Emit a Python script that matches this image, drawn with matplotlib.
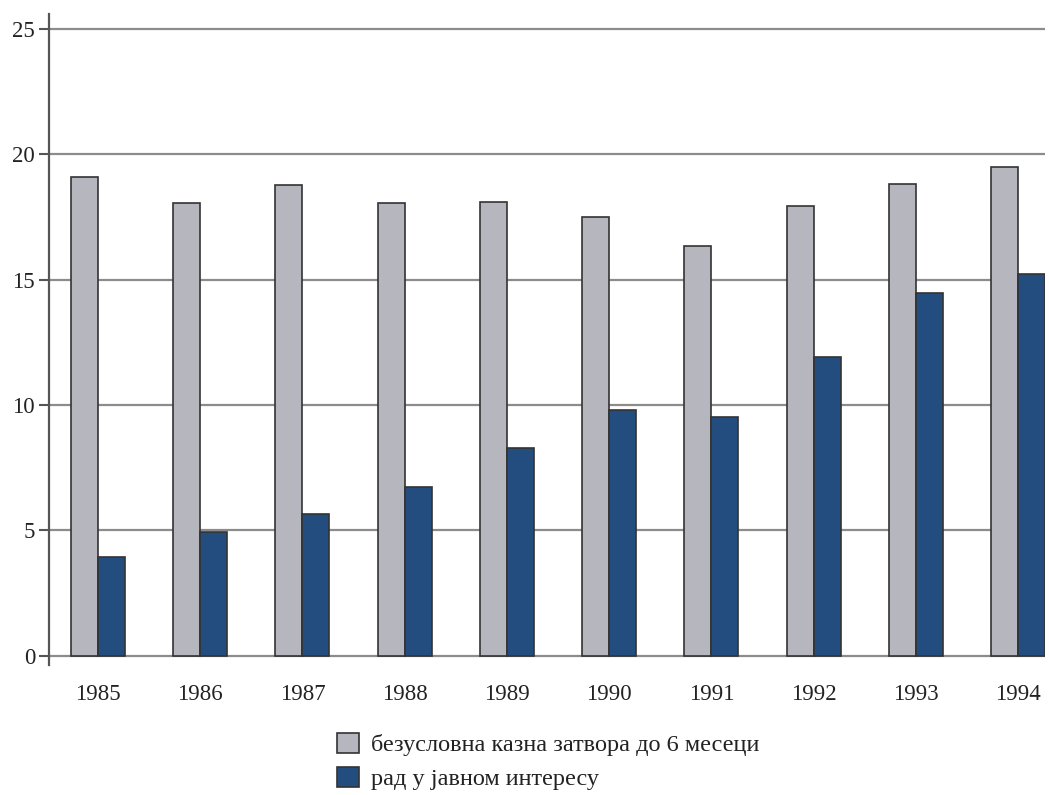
import numpy as np
import matplotlib
matplotlib.use("Agg")
import matplotlib.pyplot as plt
from matplotlib.patches import Patch

plt.rcParams['font.family'] = ['Liberation Serif', 'DejaVu Serif']

years = ['1985', '1986', '1987', '1988', '1989', '1990', '1991', '1992', '1993', '1994']
prison = [19.1, 18.06, 18.76, 18.06, 18.09, 17.5, 16.32, 17.92, 18.82, 19.49]
community = [3.93, 4.93, 5.65, 6.72, 8.27, 9.8, 9.53, 11.9, 14.47, 15.23]
labels = ['безусловна казна затвора до 6 месеци', 'рад у јавном интересу']

grey = '#b5b6be'
blue = '#234d7e'
edge = '#333333'

fig = plt.figure(figsize=(10.49, 7.95), dpi=100)
ax = fig.add_axes([49/1049, 130/795, (1045-49)/1049, (665-14)/795])

x = np.arange(len(years))
w = 0.263
ax.bar(x - w/2, prison, w, color=grey, edgecolor=edge, linewidth=1.2, zorder=3)
ax.bar(x + w/2, community, w, color=blue, edgecolor=edge, linewidth=1.2, zorder=3)

for v in range(0, 26, 5):
    ax.axhline(v, color='#8c8c8c', linewidth=1.6, zorder=1)

ax.set_xlim(-0.478, 9.263)
ax.set_ylim(-0.36, 25.58)
ax.set_yticks(range(0, 26, 5))
ax.set_xticks(x)
ax.set_xticklabels(years)
ax.tick_params(axis='x', length=0, pad=14, labelsize=16.5, colors='#222222')
ax.tick_params(axis='y', length=7, width=1.5, color='#555555', pad=3, labelsize=16.5, labelcolor='#222222')
for s in ['top', 'right', 'bottom']:
    ax.spines[s].set_visible(False)
ax.spines['left'].set_color('#555555')
ax.spines['left'].set_linewidth(1.6)

handles = [Patch(facecolor=grey, edgecolor=edge, linewidth=1.2),
           Patch(facecolor=blue, edgecolor=edge, linewidth=1.2)]
fig.legend(handles, labels, loc='upper left', bbox_to_anchor=(315/1049, 1 - 711/795),
           frameon=False, fontsize=17.5, handlelength=0.9, handleheight=0.9,
           handletextpad=0.5, labelspacing=0.42, labelcolor='#222222')

fig.savefig('out.png', dpi=100)
